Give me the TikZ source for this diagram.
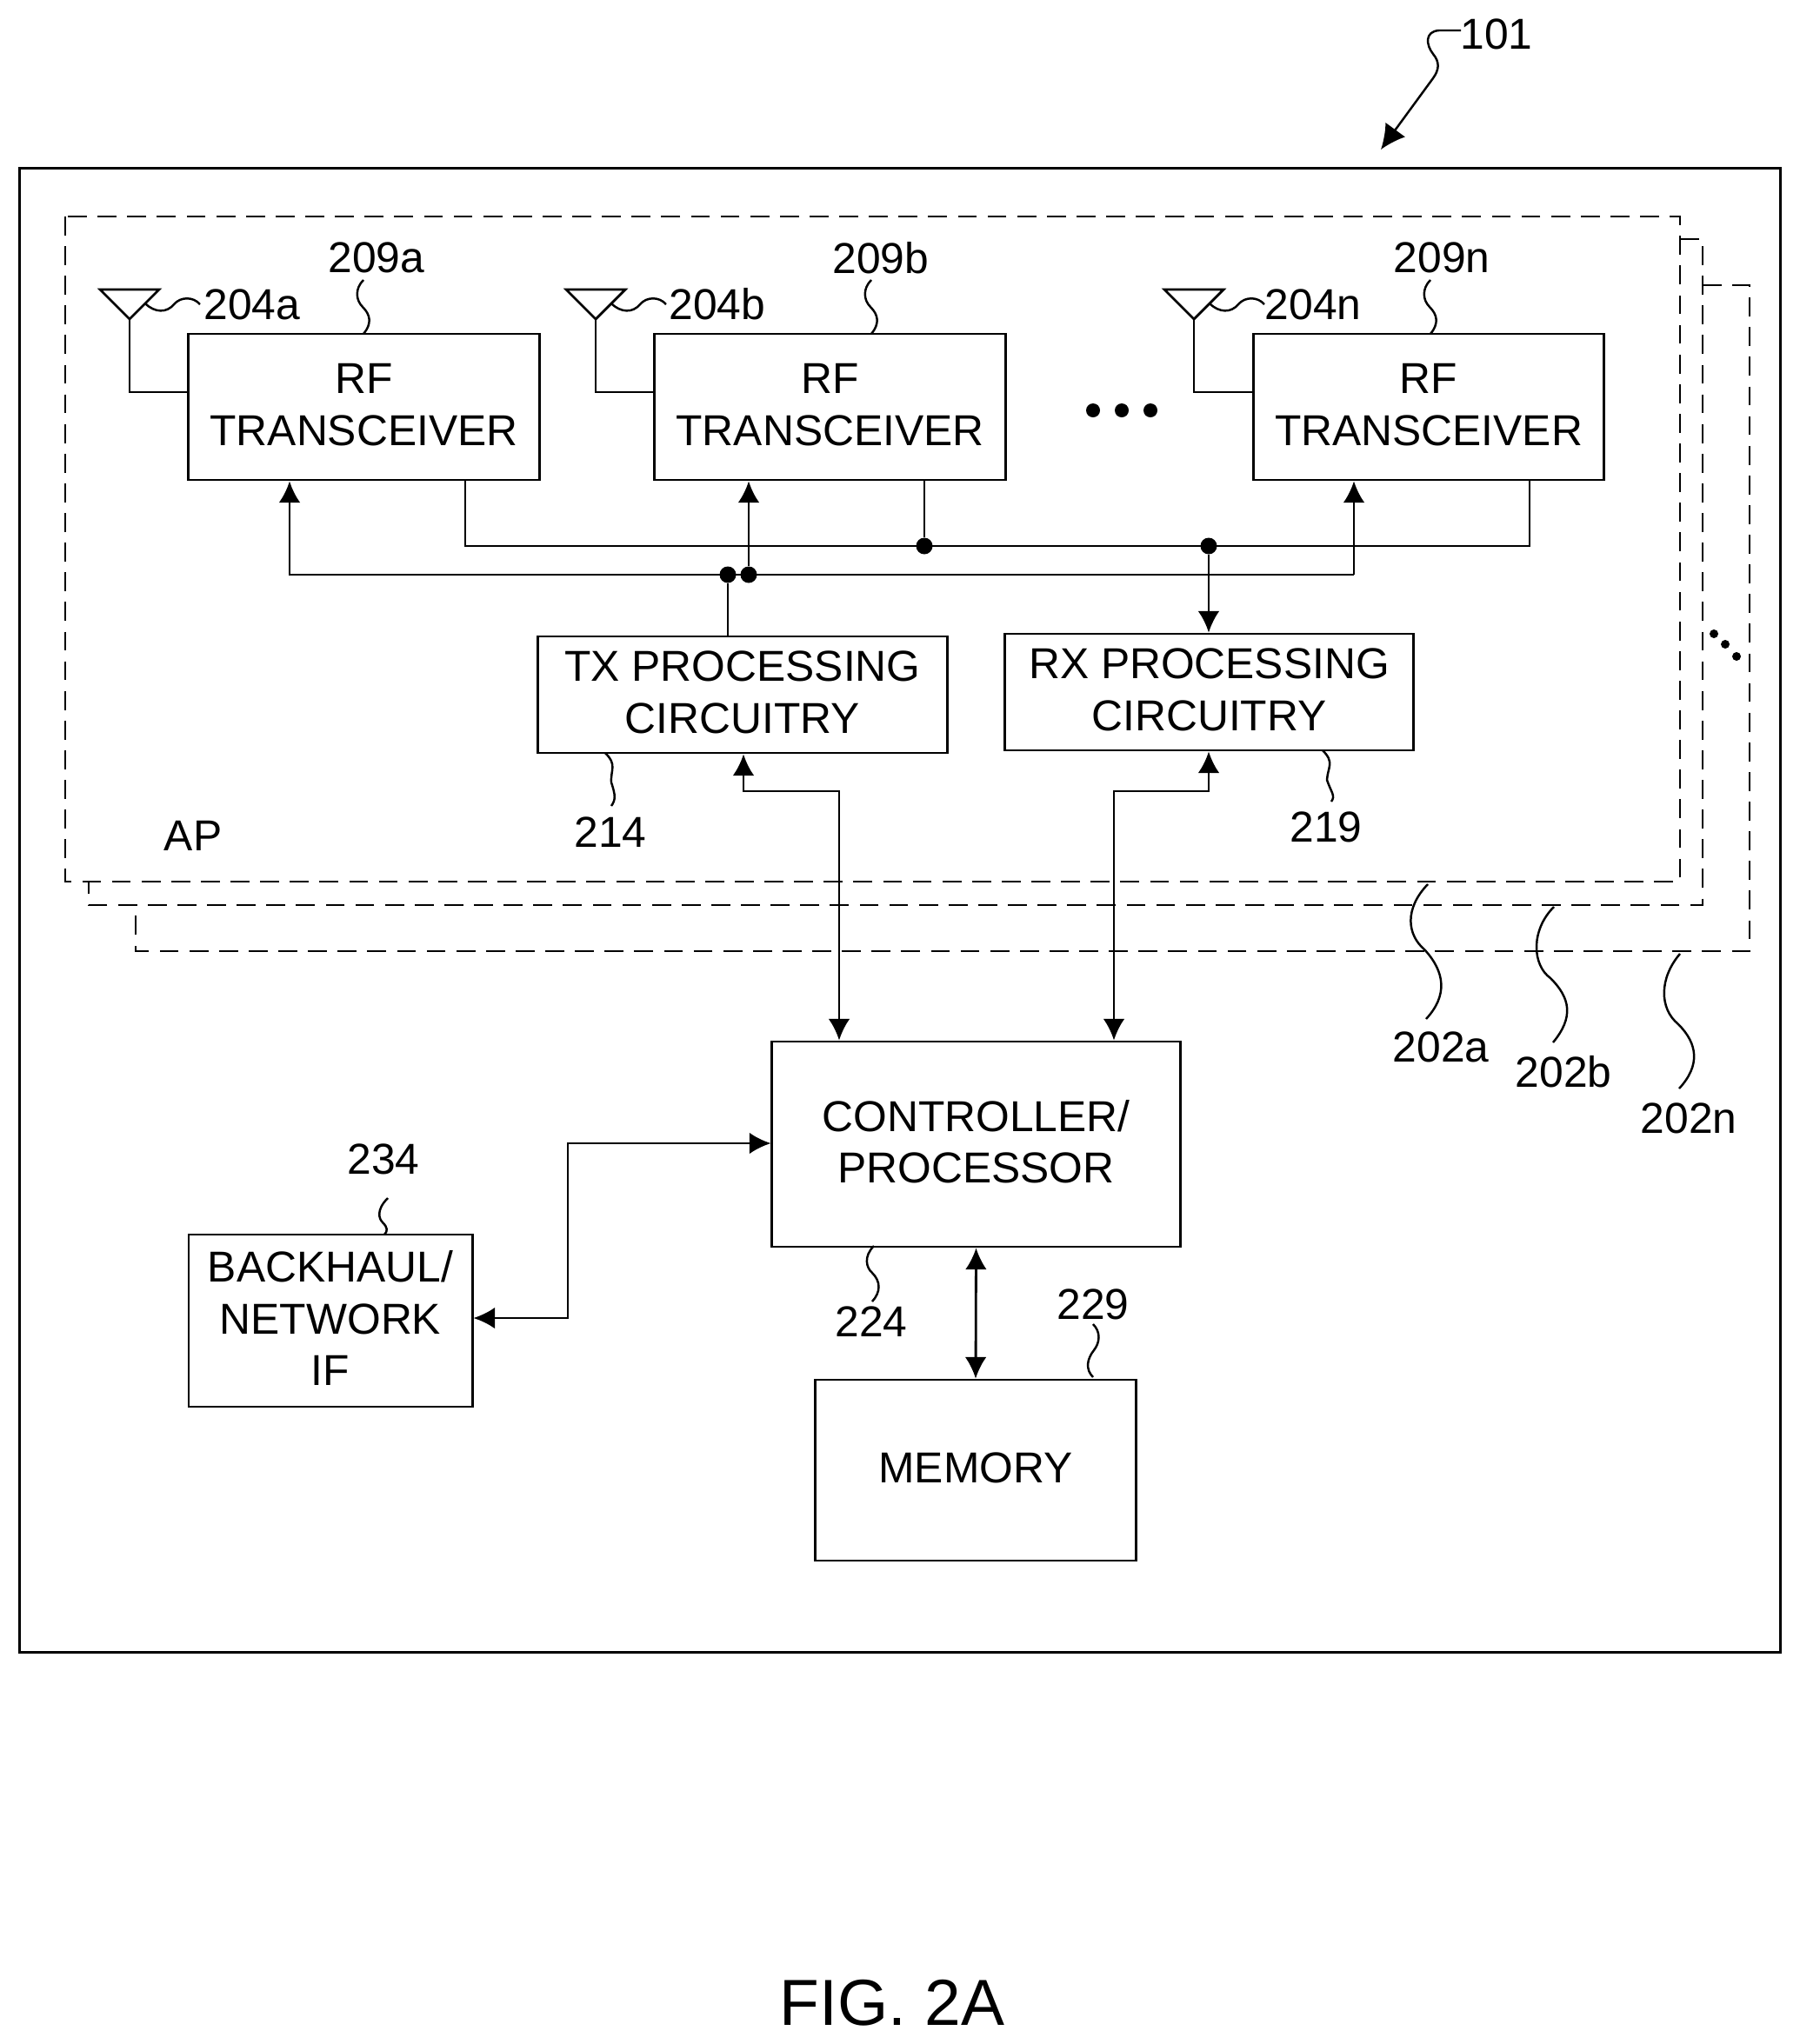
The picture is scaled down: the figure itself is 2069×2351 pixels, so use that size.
\documentclass[tikz,border=0pt]{standalone}
\usepackage{fontspec}
\setmainfont{Liberation Sans}
\usetikzlibrary{arrows.meta}

\tikzset{
    blockbox/.style={draw, line width=0.8pt, inner sep=0pt, align=center, text depth=1.7pt, font=\fontsize{14.15}{17}\selectfont},
    dashbox/.style={line width=0.7pt, dash pattern=on 6.2pt off 3.5pt},
    wire/.style={line width=0.8pt},
    wirearrow/.style={line width=0.8pt, -{Latex[length=7pt,width=7pt]}},
    wiredouble/.style={line width=0.8pt, {Latex[length=7pt,width=7pt]}-{Latex[length=7pt,width=7pt]}},
    busdot/.style={circle, fill, inner sep=0pt, minimum size=0.19cm},
    leader/.style={line width=0.7pt},
    reflabel/.style={inner sep=0pt, font=\fontsize{14.15}{17}\selectfont},
}

\begin{document}
\begin{tikzpicture}[x=0.01cm, y=-0.01cm]
        \useasboundingbox (0,0) rectangle (2069,2351);

        % outer device and the stacked access points
        \node[draw, line width=0.8pt, inner sep=0pt, minimum width=20.24cm, minimum height=17.06cm] (device) at (1035,1047) {};
        \draw[dashbox] (75,249) rectangle (1932,1014);
        \draw[dashbox] (1932,275) -- (1958,275) -- (1958,1041) -- (102,1041) -- (102,1014);
        \draw[dashbox] (1958,328) -- (2012,328) -- (2012,1094) -- (156,1094) -- (156,1041);
        \node[reflabel] (aplabel) at (222,961) {AP};

        % blocks
        \node[blockbox, minimum width=4.03cm, minimum height=1.68cm] (rfa) at (418.5,468) {RF\\TRANSCEIVER};
        \node[blockbox, minimum width=4.03cm, minimum height=1.68cm] (rfb) at (954.5,468) {RF\\TRANSCEIVER};
        \node[blockbox, minimum width=4.03cm, minimum height=1.68cm] (rfn) at (1643,468) {RF\\TRANSCEIVER};
        \node[blockbox, minimum width=4.70cm, minimum height=1.34cm] (tx) at (854,799) {TX PROCESSING\\CIRCUITRY};
        \node[blockbox, minimum width=4.69cm, minimum height=1.34cm] (rx) at (1390.5,796) {RX PROCESSING\\CIRCUITRY};
        \node[blockbox, minimum width=4.69cm, minimum height=2.36cm] (ctrl) at (1122.5,1316) {CONTROLLER/\\PROCESSOR};
        \node[blockbox, minimum width=3.68cm, minimum height=2.08cm] (mem) at (1122,1691) {MEMORY};
        \node[blockbox, minimum width=3.26cm, minimum height=1.98cm] (backhaul) at (380,1519) {BACKHAUL/\\NETWORK\\IF};

        % ellipsis between the transceivers and between the boxes
        \fill (1257,472) circle (8);
        \fill (1290,472) circle (8);
        \fill (1323,472) circle (8);
        \fill (1971,729) circle (5);
        \fill (1984,741) circle (5);
        \fill (1997,755) circle (5);

        % antennas
        \coordinate (anta) at (149,367);
        \coordinate (antb) at (685,367);
        \coordinate (antn) at (1373,367);
        \draw[wire] (anta) -- (115,333) -- (183,333) -- cycle;
        \draw[wire] (antb) -- (651,333) -- (719,333) -- cycle;
        \draw[wire] (antn) -- (1339,333) -- (1407,333) -- cycle;
        \draw[wire] (anta) |- (rfa.west |- 0,451);
        \draw[wire] (antb) |- (rfb.west |- 0,451);
        \draw[wire] (antn) |- (rfn.west |- 0,451);

        % two buses
        \node[busdot] (dotc) at (1063,628) {};
        \node[busdot] (dotd) at (1390,628) {};
        \node[busdot] (dota) at (837,661) {};
        \node[busdot] (dotb) at (861,661) {};
        \coordinate (upleft) at (535,628);
        \coordinate (upright) at (1759,628);
        \coordinate (lowleft) at (333,661);
        \coordinate (lowright) at (1557,661);

        \draw[wire] (rfa.south -| upleft) -- (upleft) -- (upright) -- (rfn.south -| upright);
        \draw[wire] (rfb.south -| dotc) -- (dotc);
        \draw[wirearrow] (dotd) -- (rx.north -| dotd);
        \draw[wirearrow] (lowright) -- (lowleft) -- (rfa.south -| lowleft);
        \draw[wirearrow] (lowleft -| lowright) -- (rfn.south -| lowright);
        \draw[wirearrow] (dotb) -- (rfb.south -| dotb);
        \draw[wire] (tx.north -| dota) -- (dota);

        % links to the controller
        \coordinate (txturn) at (855,910);
        \coordinate (txdown) at (965,910);
        \coordinate (rxturn) at (1390,910);
        \coordinate (rxdown) at (1281,910);
        \draw[wiredouble] (tx.south -| txturn) -- (txturn) -- (txdown) -- (ctrl.north -| txdown);
        \draw[wiredouble] (rx.south -| rxturn) -- (rxturn) -- (rxdown) -- (ctrl.north -| rxdown);
        \draw[wiredouble] (ctrl.south) -- (mem.north);
        \coordinate (bhturn) at (653,1516);
        \coordinate (ctrlturn) at (653,1315);
        \draw[wiredouble] (backhaul.east |- bhturn) -- (bhturn) -- (ctrlturn) -- (ctrl.west |- ctrlturn);

        % reference numerals
        \node[reflabel] (n101) at (1721,39) {101};
        \node[reflabel] (n204a) at (290,350) {204a};
        \node[reflabel] (n204b) at (825,350) {204b};
        \node[reflabel] (n204n) at (1510,350) {204n};
        \node[reflabel] (n209a) at (433,296) {209a};
        \node[reflabel] (n209b) at (1013,297) {209b};
        \node[reflabel] (n209n) at (1658,296) {209n};
        \node[reflabel] (n214) at (702,957) {214};
        \node[reflabel] (n219) at (1525,951) {219};
        \node[reflabel] (n234) at (441,1333) {234};
        \node[reflabel] (n224) at (1002,1520) {224};
        \node[reflabel] (n229) at (1257,1500) {229};
        \node[reflabel] (n202a) at (1657,1204) {202a};
        \node[reflabel] (n202b) at (1798,1233) {202b};
        \node[reflabel] (n202n) at (1942,1286) {202n};
        \node[font=\fontsize{21.3}{25}\selectfont, inner sep=0pt] (figlabel) at (1026,2304) {FIG. 2A};

        % leaders
        \draw[leader, -{Latex[length=8pt,width=8pt]}] (1680,35) -- (1655,35) .. controls (1638,36) and (1640,52) .. (1648,62) .. controls (1656,72) and (1655,80) .. (1648,90) -- (1588,172);
        \draw[leader] (167,349) .. controls (178,360) and (192,360) .. (200,350) .. controls (208,341) and (222,341) .. (230,350);
        \draw[leader] (703,349) .. controls (714,360) and (728,360) .. (736,350) .. controls (744,341) and (758,341) .. (766,350);
        \draw[leader] (1391,349) .. controls (1402,360) and (1416,360) .. (1424,350) .. controls (1432,341) and (1446,341) .. (1454,350);
        \draw[leader] (418,322) .. controls (408,332) and (409,345) .. (417,353) .. controls (426,362) and (428,372) .. (418,384);
        \draw[leader] (1002,322) .. controls (992,332) and (993,345) .. (1001,353) .. controls (1010,362) and (1012,372) .. (1002,384);
        \draw[leader] (1645,322) .. controls (1635,332) and (1636,345) .. (1644,353) .. controls (1653,362) and (1655,372) .. (1645,384);
        \draw[leader] (696,866) .. controls (710,880) and (702,885) .. (703,900) .. controls (708,915) and (708,920) .. (703,927);
        \draw[leader] (1521,863) .. controls (1535,877) and (1527,882) .. (1526,897) .. controls (1531,912) and (1536,915) .. (1531,922);
        \draw[leader] (446,1378) .. controls (432,1392) and (436,1402) .. (440,1406) .. controls (446,1412) and (446,1416) .. (442,1420);
        \draw[leader] (1005,1433) .. controls (993,1445) and (996,1458) .. (1003,1464) .. controls (1013,1474) and (1013,1486) .. (1003,1497);
        \draw[leader] (1257,1523) .. controls (1266,1532) and (1265,1544) .. (1258,1553) .. controls (1250,1563) and (1248,1575) .. (1257,1584);
        \draw[leader] (1642,1017) .. controls (1615,1045) and (1618,1075) .. (1638,1092) .. controls (1662,1118) and (1665,1145) .. (1640,1172);
        \draw[leader] (1787,1043) .. controls (1760,1070) and (1762,1110) .. (1783,1125) .. controls (1806,1148) and (1810,1170) .. (1786,1199);
        \draw[leader] (1932,1097) .. controls (1908,1125) and (1908,1160) .. (1930,1178) .. controls (1952,1200) and (1956,1225) .. (1931,1252);
    \end{tikzpicture}
\end{document}
